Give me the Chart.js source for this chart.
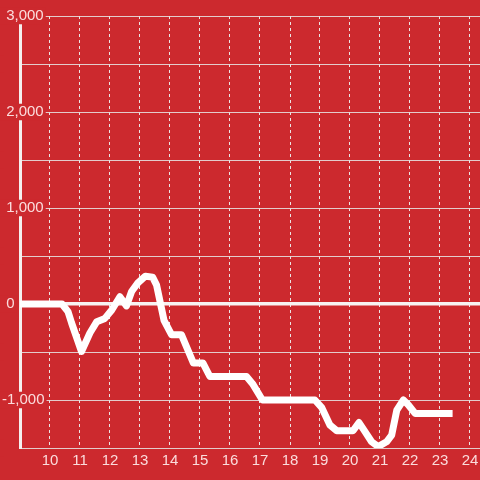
<!DOCTYPE html>
<html>
<head>
<meta charset="utf-8">
<script src="https://cdn.jsdelivr.net/npm/chart.js@4/dist/chart.umd.min.js"></script>
<style>
  html, body { margin: 0; padding: 0; background: #cc292e; }
  canvas { display: block; }
</style>
</head>
<body>
<canvas id="pnlChart" width="480" height="480"></canvas>
<script>
// hours of the day and running value
const hours = [9.0, 10.4, 10.6, 10.72, 11.05, 11.33, 11.56, 11.83, 12.06, 12.33, 12.55, 12.72, 12.93, 13.18, 13.42,
               13.55, 13.8, 14.05, 14.38, 14.78, 15.1, 15.33, 16.55, 16.75, 17.08, 18.83, 19.06, 19.33, 19.56, 20.1,
               20.3, 20.5, 20.72, 20.94, 21.22, 21.39, 21.56, 21.78, 21.94, 22.17, 23.42];
const values = [0, 0, -80, -198, -495, -302, -184, -150, -62, 76, -20, 130, 220, 290, 280,
                200, -170, -320, -320, -615, -615, -755, -755, -830, -1000, -1000, -1080, -1260, -1320, -1320,
                -1235, -1330, -1435, -1485, -1435, -1365, -1105, -1000, -1050, -1140, -1140];
const xTicks = [10, 11, 12, 13, 14, 15, 16, 17, 18, 19, 20, 21, 22, 23, 24];
const yTicks = [-1500, -1000, -500, 0, 500, 1000, 1500, 2000, 2500, 3000];

const bg = '#cc292e';
const labelColor = 'rgba(255, 235, 235, 0.92)';
Chart.defaults.font.family = "'Liberation Sans', Arial, sans-serif";

const ctx = document.getElementById('pnlChart').getContext('2d');
const pnlChart = new Chart(ctx, {
    type: 'line',
    data: {
        datasets: [{
            data: hours.map((h, i) => ({ x: h, y: values[i] })),
            borderColor: '#ffffff',
            borderWidth: 7,
            borderJoinStyle: 'round',
            pointRadius: 0,
            tension: 0,
            fill: false
        }]
    },
    options: {
        responsive: false,
        animation: false,
        layout: { padding: { top: 16, left: 2, right: 0, bottom: 0 } },
        plugins: {
            legend: { display: false },
            tooltip: { enabled: false }
        },
        scales: {
            x: {
                type: 'linear',
                min: 9,
                max: 9 + 460 / 30,
                afterBuildTicks: (scale) => { scale.ticks = xTicks.map(v => ({ value: v })); },
                afterFit: (scale) => { scale.height = 32; },
                grid: {
                    color: '#ece4e4',
                    lineWidth: 1,
                    drawTicks: false
                },
                border: { display: false, dash: [3, 3] },
                ticks: {
                    color: labelColor,
                    padding: 0,
                    autoSkip: false,
                    maxRotation: 0,
                    font: { size: 15, lineHeight: 25 / 15 }
                }
            },
            y: {
                min: -1500,
                max: 3000,
                afterBuildTicks: (scale) => { scale.ticks = yTicks.map(v => ({ value: v })); },
                afterFit: (scale) => { scale.width = 18; },
                grid: {
                    color: (c) => c.tick && c.tick.value === 0 ? '#f8f2f2' : 'rgba(230, 222, 222, 0.9)',
                    lineWidth: (c) => c.tick && c.tick.value === 0 ? 3.5 : 1,
                    drawTicks: false
                },
                border: { display: true, color: '#f5efef', width: 3 },
                ticks: {
                    color: labelColor,
                    mirror: true,
                    crossAlign: 'near',
                    padding: -18,
                    font: { size: 15, lineHeight: 1.1 },
                    showLabelBackdrop: true,
                    backdropColor: bg,
                    backdropPadding: { left: 2, right: 2, top: 0, bottom: 0 },
                    callback: (v) => v % 1000 === 0 ? (v < 0 ? '' : ' ') + v.toLocaleString('en-US') : ''
                }
            }
        }
    }
});
</script>
</body>
</html>
